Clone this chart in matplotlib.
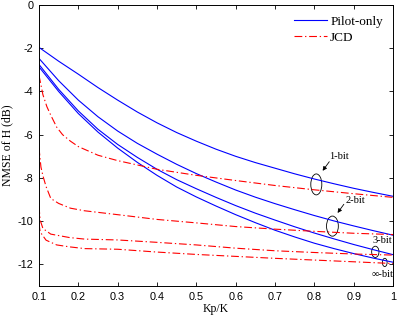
import numpy as np
import matplotlib
matplotlib.use('Agg')
from matplotlib import pyplot as plt
from matplotlib.patches import Ellipse

plt.rcParams['axes.unicode_minus'] = False

# Kp/K sample points and NMSE (dB)
x_pilot = [0.1, 0.15, 0.2, 0.25, 0.3, 0.35, 0.4, 0.45, 0.5, 0.55, 0.6, 0.65,
           0.7, 0.75, 0.8, 0.85, 0.9, 0.95, 1.0]
pilot_1bit = [-1.96, -2.6, -3.2, -3.82, -4.4, -4.95, -5.45, -5.9, -6.3, -6.67, -7.0, -7.29,
              -7.55, -7.81, -8.05, -8.27, -8.48, -8.67, -8.85]
pilot_2bit = [-2.47, -3.5, -4.4, -5.17, -5.83, -6.4, -6.9, -7.37, -7.8, -8.19, -8.56, -8.89,
              -9.19, -9.47, -9.74, -9.99, -10.22, -10.44, -10.65]
pilot_3bit = [-2.75, -3.9, -4.9, -5.75, -6.45, -7.05, -7.6, -8.08, -8.5, -8.9, -9.28, -9.63,
              -9.95, -10.26, -10.55, -10.82, -11.08, -11.32, -11.55]
pilot_inf = [-2.86, -4.0, -5.02, -5.88, -6.62, -7.28, -7.88, -8.42, -8.88, -9.3, -9.7, -10.07,
             -10.42, -10.73, -11.02, -11.27, -11.5, -11.71, -11.9]

x_jcd1 = [0.1, 0.105, 0.11, 0.12, 0.13, 0.145, 0.16, 0.18, 0.2, 0.25, 0.3, 0.4, 0.5, 0.6, 0.7, 0.8, 0.9, 1.0]
jcd_1bit = [-3.25, -3.7, -4.15, -4.7, -5.1, -5.65, -6.0, -6.3, -6.55, -6.95, -7.2, -7.6, -7.88, -8.12, -8.35, -8.55, -8.73, -8.9]
x_jcd2 = [0.1, 0.105, 0.11, 0.118, 0.13, 0.15, 0.18, 0.216, 0.3, 0.4, 0.5, 0.6, 0.7, 0.8, 0.9, 1.0]
jcd_2bit = [-6.6, -7.5, -7.9, -8.4, -8.95, -9.18, -9.4, -9.52, -9.7, -9.92, -10.08, -10.25, -10.37, -10.47, -10.56, -10.62]
x_jcd3 = [0.1, 0.103, 0.11, 0.13, 0.145, 0.178, 0.216, 0.3, 0.4, 0.5, 0.6, 0.7, 0.8, 0.9, 1.0]
jcd_3bit = [-9.3, -9.95, -10.34, -10.6, -10.65, -10.76, -10.83, -10.87, -10.98, -11.1, -11.25, -11.37, -11.45, -11.52, -11.57]
x_jcd4 = [0.1, 0.103, 0.118, 0.145, 0.178, 0.216, 0.3, 0.4, 0.5, 0.6, 0.7, 0.8, 0.9, 1.0]
jcd_inf = [-10.1, -10.5, -10.88, -11.1, -11.19, -11.27, -11.3, -11.43, -11.54, -11.63, -11.72, -11.8, -11.88, -11.96]

xticks = [0.1, 0.2, 0.3, 0.4, 0.5, 0.6, 0.7, 0.8, 0.9, 1.0]
xticklabels = ['0.1', '0.2', '0.3', '0.4', '0.5', '0.6', '0.7', '0.8', '0.9', '1']
yticks = [0, -2, -4, -6, -8, -10, -12]

fig = plt.figure(figsize=(3.99, 3.17), dpi=100)
ax = fig.add_axes([0.0977, 0.0978, 0.8873, 0.8864])

dash = (7, 2.5, 1.2, 2.5)
ax.plot(x_pilot, pilot_1bit, color='blue', lw=0.8, label='Pilot-only')
for yv in [pilot_2bit, pilot_3bit, pilot_inf]:
    ax.plot(x_pilot, yv, color='blue', lw=0.8)
ax.plot(x_jcd1, jcd_1bit, color='red', lw=0.8, dashes=dash, label='JCD')
ax.plot(x_jcd2, jcd_2bit, color='red', lw=0.8, dashes=dash)
ax.plot(x_jcd3, jcd_3bit, color='red', lw=0.8, dashes=dash)
ax.plot(x_jcd4, jcd_inf, color='red', lw=0.8, dashes=dash)

ax.set_xlim(0.1, 1.0)
ax.set_ylim(-13, 0)
ax.set_xticks(xticks)
ax.set_xticklabels(xticklabels)
ax.set_yticks(yticks)
ax.tick_params(direction='in', length=3, width=0.6, top=True, right=True,
               labelsize=7.8, pad=4)
for lab in ax.get_xticklabels() + ax.get_yticklabels():
    lab.set_fontfamily('Liberation Sans')
for s in ax.spines.values():
    s.set_linewidth(0.7)

ax.set_xlabel('Kp/K', family='Liberation Serif', fontsize=8.5, labelpad=1)
ax.set_ylabel('NMSE of H (dB)', family='Liberation Serif', fontsize=8.5, labelpad=3)

ax.legend(loc='upper left', bbox_to_anchor=(0.72, 0.963), frameon=False,
          prop={'family': 'Liberation Serif', 'size': 9.5}, handlelength=2.5,
          handletextpad=0.25, borderpad=0, borderaxespad=0, labelspacing=0.3)

# ellipses and labels marking each quantization level
ellipses = [((0.805, -8.3), 0.028, 0.97), ((0.846, -10.23), 0.030, 0.93),
            ((0.955, -11.42), 0.0186, 0.52), ((0.979, -11.91), 0.012, 0.38)]
for c, w, h in ellipses:
    ax.add_patch(Ellipse(c, w, h, fill=False, ec='black', lw=0.6, clip_on=False))

tfont = dict(family='Liberation Serif', fontsize=7.5, ha='center', va='center')
ax.text(0.863, -7.02, '1-bit', **tfont)
ax.text(0.904, -9.06, '2-bit', **tfont)
ax.text(0.972, -10.88, '3-bit', **tfont)
ax.text(0.974, -12.45, '\u221e-bit', clip_on=False, **tfont)
arr = dict(arrowstyle='-|>', lw=0.6, color='black', mutation_scale=6, shrinkA=0, shrinkB=0)
ax.annotate('', xy=(0.821, -7.67), xytext=(0.838, -7.25), arrowprops=arr)
ax.annotate('', xy=(0.859, -9.62), xytext=(0.875, -9.22), arrowprops=arr)

fig.savefig('out.png', dpi=100)
